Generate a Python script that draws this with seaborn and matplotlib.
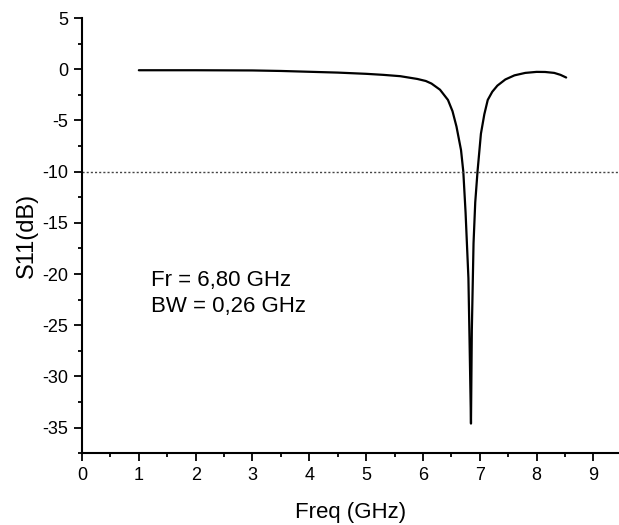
import matplotlib
matplotlib.use("Agg")
import matplotlib.pyplot as plt
from matplotlib.ticker import MultipleLocator
import seaborn as sns
import pandas as pd

freq = [1.0, 2.0, 3.0, 3.5, 4.0, 4.5, 5.0, 5.3, 5.6, 5.9, 6.05, 6.15, 6.3, 6.44, 6.52,
        6.59, 6.67, 6.71, 6.75, 6.80, 6.82, 6.845, 6.86, 6.89, 6.92, 6.96, 7.02,
        7.08, 7.14, 7.22, 7.31, 7.45, 7.61, 7.8, 8.0, 8.15, 8.31, 8.42, 8.52]
s11 = [-0.10, -0.10, -0.12, -0.17, -0.25, -0.33, -0.45, -0.55, -0.68, -0.95, -1.15,
       -1.4, -2.0, -3.0, -4.1, -5.6, -7.9, -10.0, -14.0, -20.4, -26.5, -34.6,
       -25.5, -17.0, -13.0, -10.0, -6.3, -4.4, -3.0, -2.2, -1.6, -1.0, -0.6,
       -0.36, -0.26, -0.27, -0.36, -0.55, -0.81]
threshold = -10
label_text = "Fr = 6,80 GHz\nBW = 0,26 GHz"

df = pd.DataFrame({"Freq (GHz)": freq, "S11(dB)": s11})

sns.set_theme(style="ticks")
plt.rcParams['font.family'] = ['Liberation Sans', 'DejaVu Sans']
plt.rcParams['axes.unicode_minus'] = False
plt.rcParams['text.color'] = 'black'
plt.rcParams['axes.labelcolor'] = 'black'

fig = plt.figure(figsize=(6.19, 5.25), dpi=100)
ax = fig.add_axes([0.1325, 0.1366, 0.8675, 0.8291])

sns.lineplot(data=df, x="Freq (GHz)", y="S11(dB)", ax=ax, color="black",
             linewidth=1.6, sort=False)
ax.axhline(threshold, color="#444444", linestyle=(0, (1.5, 1.5)), linewidth=1.0)

ax.set_xlim(0, 9.45)
ax.set_ylim(-37.5, 5)
ax.xaxis.set_major_locator(MultipleLocator(1))
ax.xaxis.set_minor_locator(MultipleLocator(0.5))
ax.yaxis.set_major_locator(MultipleLocator(5))
ax.yaxis.set_minor_locator(MultipleLocator(2.5))

for s in ["top", "right"]:
    ax.spines[s].set_visible(False)
for s in ["left", "bottom"]:
    ax.spines[s].set_linewidth(1.5)
    ax.spines[s].set_color("black")

ax.tick_params(which="major", direction="out", length=5.5, width=1.3,
               labelsize=13, colors="black", pad=4.5)
ax.tick_params(which="minor", direction="out", length=3, width=1.3, colors="black")

ax.set_xlabel("Freq (GHz)", fontsize=16, labelpad=13)
ax.set_ylabel("S11(dB)", fontsize=17, labelpad=3)

ax.text(1.22, -19.6, label_text, fontsize=16, va="top", ha="left",
        linespacing=1.3, color="black")

fig.savefig("out.png", dpi=100)
